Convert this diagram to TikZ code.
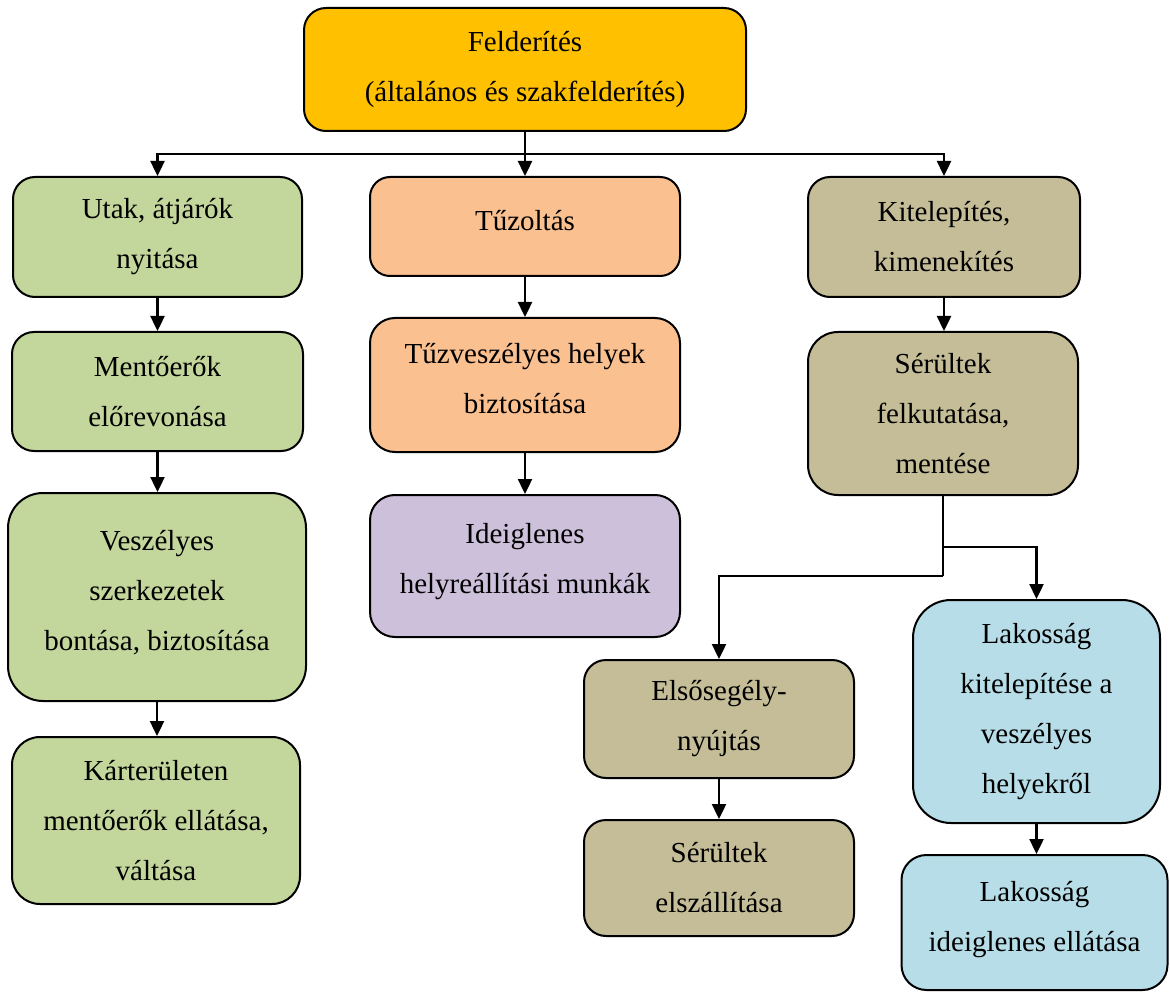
\documentclass[tikz,border=0pt]{standalone}
\usepackage{fontspec}
\setmainfont{Liberation Serif}
\usetikzlibrary{arrows.meta}

\definecolor{cgold}{HTML}{FFC000}
\definecolor{cgreen}{HTML}{C3D69B}
\definecolor{corange}{HTML}{FAC090}
\definecolor{cpurple}{HTML}{CCC0DA}
\definecolor{ctan}{HTML}{C4BD97}
\definecolor{cblue}{HTML}{B7DEE8}

\tikzset{
  box/.style={draw=black, line width=2pt, align=center, inner sep=0pt,
    text=black, font=\fontsize{29}{50}\selectfont},
  ln/.style={draw=black, line width=2.4pt},
  arr/.style={ln, -{Triangle[length=15pt,width=14pt]}}
}

\begin{document}
\begin{tikzpicture}[x=1pt,y=-1pt]
\useasboundingbox (0,0) rectangle (1170,992);

% top level
\node[box, fill=cgold, rounded corners=22pt, minimum width=442pt, minimum height=123pt]
  (top) at (525,69.5) {Felderítés\\(általános és szakfelderítés)};

% left column
\node[box, fill=cgreen, rounded corners=22pt, minimum width=289pt, minimum height=120pt]
  (utak) at (157.5,237) {Utak, átjárók\\nyitása};
\node[box, fill=cgreen, rounded corners=22pt, minimum width=291pt, minimum height=119pt]
  (ment) at (157.5,391.5) {Mentőerők\\előrevonása};
\node[box, fill=cgreen, rounded corners=35pt, minimum width=298pt, minimum height=208pt,
  text depth=14pt]
  (vesz) at (157,597) {Veszélyes\\szerkezetek\\bontása, biztosítása};
\node[box, fill=cgreen, rounded corners=28pt, minimum width=288pt, minimum height=167pt]
  (kar) at (156,820.5) {Kárterületen\\mentőerők ellátása,\\váltása};

% middle column
\node[box, fill=corange, rounded corners=20pt, minimum width=310pt, minimum height=99pt,
  text depth=12pt]
  (tuz) at (525,226.5) {Tűzoltás};
\node[box, fill=corange, rounded corners=25pt, minimum width=310pt, minimum height=134pt,
  text depth=14pt]
  (tuzv) at (525,385) {Tűzveszélyes helyek\\biztosítása};
\node[box, fill=cpurple, rounded corners=25pt, minimum width=310pt, minimum height=142pt,
  text depth=14.3pt]
  (ideig) at (525,566) {Ideiglenes\\helyreállítási munkák};

% right column
\node[box, fill=ctan, rounded corners=22pt, minimum width=272pt, minimum height=120pt]
  (kit) at (944,237) {Kitelepítés,\\kimenekítés};
\node[box, fill=ctan, rounded corners=30pt, minimum width=270pt, minimum height=163pt]
  (serul) at (943,413.5) {Sérültek\\felkutatása,\\mentése};
\node[box, fill=ctan, rounded corners=22pt, minimum width=270pt, minimum height=118pt]
  (elso) at (719,719) {Elsősegély-\\nyújtás};
\node[box, fill=ctan, rounded corners=22pt, minimum width=270pt, minimum height=116pt]
  (elsz) at (719,878) {Sérültek\\elszállítása};
\node[box, fill=cblue, rounded corners=38pt, minimum width=247pt, minimum height=223pt]
  (lak1) at (1036.5,711.5) {Lakosság\\kitelepítése a\\veszélyes\\helyekről};
\node[box, fill=cblue, rounded corners=25pt, minimum width=266pt, minimum height=135pt,
  text depth=12.3pt]
  (lak2) at (1034.5,922.5) {Lakosság\\ideiglenes ellátása};

% junctions
\coordinate (j1) at (525,154);
\coordinate (j3) at (943,547);
\coordinate (j4) at (943,576);

% connectors from the top box
\draw[ln] (top.south) -- (j1);
\draw[arr] (j1) -- (tuz.north);
\draw[arr] (j1) -| (utak.north);
\draw[arr] (j1) -| (kit.north);

% left chain
\draw[arr] (utak.south) -- (utak.south |- ment.north);
\draw[arr] (ment.south) -- (ment.south |- vesz.north);
\draw[arr] (vesz.south) -- (vesz.south |- kar.north);

% middle chain
\draw[arr] (tuz.south) -- (tuz.south |- tuzv.north);
\draw[arr] (tuzv.south) -- (tuzv.south |- ideig.north);

% right chain
\draw[arr] (kit.south) -- (kit.south |- serul.north);
\draw[ln] (serul.south) -- (j4);
\draw[arr] (j4) -| (elso.north);
\draw[arr] (j3) -| (lak1.north);
\draw[arr] (elso.south) -- (elso.south |- elsz.north);
\draw[arr] (lak1.south) -- (lak1.south |- lak2.north);
\end{tikzpicture}
\end{document}
